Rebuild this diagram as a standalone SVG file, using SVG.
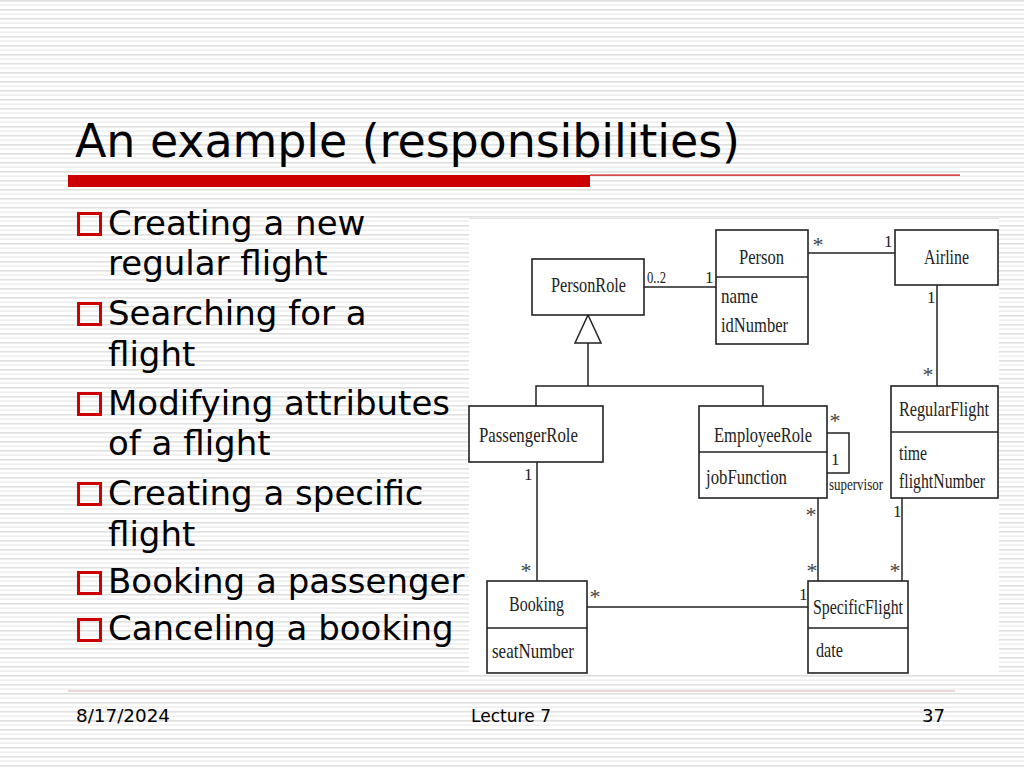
<svg xmlns="http://www.w3.org/2000/svg" width="1024" height="768" viewBox="0 0 1024 768">
<defs>
<pattern id="stripes" x="0" y="0" width="16" height="9" patternUnits="userSpaceOnUse">
<rect x="0" y="0" width="16" height="9" fill="#ffffff"/>
<rect x="0" y="0" width="16" height="1.6" fill="#e0e0e0"/>
<rect x="0" y="4.5" width="16" height="1.2" fill="#eaeaea"/>
</pattern>
<style>
.title{font-family:"DejaVu Sans",Verdana,sans-serif;font-size:46px;fill:#000}
.bul{font-family:"DejaVu Sans",Verdana,sans-serif;font-size:34px;fill:#000}
.foot{font-family:"DejaVu Sans Condensed","DejaVu Sans",Tahoma,sans-serif;font-size:18px;fill:#000}
.box{fill:#fff;stroke:#222;stroke-width:1.6}
.ln{fill:none;stroke:#222;stroke-width:1.5}
.cn{font-family:"Liberation Serif","Times New Roman",serif;font-size:21px;fill:#222}
.at{font-family:"Liberation Serif","Times New Roman",serif;font-size:21px;fill:#222}
.m{font-family:"Liberation Serif","Times New Roman",serif;font-size:17px;fill:#222}
.ast{font-family:"Liberation Serif","Times New Roman",serif;font-size:22px;fill:#444;text-anchor:middle}
.sq{fill:none;stroke:#cc0000;stroke-width:3}
</style>
</defs>
<rect x="0" y="0" width="1024" height="768" fill="url(#stripes)"/>

<!-- title -->
<text class="title" x="75" y="157" textLength="665">An example (responsibilities)</text>
<rect x="68" y="175" width="522" height="12" fill="#cc0000"/>
<rect x="590" y="174.5" width="370" height="1.2" fill="#cc0000"/>

<!-- bullets -->
<g id="bullets">
<rect class="sq" x="78.5" y="213.5" width="22" height="21"/>
<text class="bul" x="108" y="235">Creating a new</text>
<text class="bul" x="108" y="275">regular flight</text>
<rect class="sq" x="78.5" y="303.5" width="22" height="21"/>
<text class="bul" x="108" y="325">Searching for a</text>
<text class="bul" x="108" y="366">flight</text>
<rect class="sq" x="78.5" y="393.5" width="22" height="21"/>
<text class="bul" x="108" y="415">Modifying attributes</text>
<text class="bul" x="108" y="455">of a flight</text>
<rect class="sq" x="78.5" y="483.5" width="22" height="21"/>
<text class="bul" x="108" y="505">Creating a specific</text>
<text class="bul" x="108" y="546">flight</text>
<rect class="sq" x="78.5" y="572.5" width="22" height="21"/>
<text class="bul" x="108" y="593">Booking a passenger</text>
<rect class="sq" x="78.5" y="619.5" width="22" height="21"/>
<text class="bul" x="108" y="640">Canceling a booking</text>
</g>

<!-- diagram background -->
<rect x="469" y="218" width="530" height="457" fill="#ffffff"/>
<line x1="469" y1="218.5" x2="999" y2="218.5" stroke="#e4e4e4" stroke-width="1"/>

<!-- connectors -->
<g id="connectors">
<line class="ln" x1="644" y1="287" x2="716" y2="287"/>
<line class="ln" x1="808" y1="253" x2="895" y2="253"/>
<line class="ln" x1="937" y1="285" x2="937" y2="386"/>
<polygon class="ln" points="588,315 575,343 601,343" fill="#fff"/>
<polyline class="ln" points="588,343 588,386"/>
<polyline class="ln" points="536,406 536,386 763,386 763,406"/>
<polyline class="ln" points="827,433 849,433 849,473 827,473"/>
<line class="ln" x1="537" y1="462" x2="537" y2="581"/>
<line class="ln" x1="587" y1="607" x2="808" y2="607"/>
<line class="ln" x1="818" y1="498" x2="818" y2="581"/>
<line class="ln" x1="902" y1="498" x2="902" y2="581"/>
<text class="m" x="647" y="283" textLength="19" lengthAdjust="spacingAndGlyphs">0..2</text>
<text class="m" x="705" y="283">1</text>
<text class="ast" x="818" y="252">*</text>
<text class="m" x="884" y="247">1</text>
<text class="m" x="927" y="303">1</text>
<text class="ast" x="928" y="382">*</text>
<text class="ast" x="835" y="428">*</text>
<text class="m" x="831" y="465">1</text>
<text class="m" x="829" y="490" style="font-size:16px" textLength="54" lengthAdjust="spacingAndGlyphs">supervisor</text>
<text class="ast" x="811" y="522">*</text>
<text class="m" x="893" y="517">1</text>
<text class="m" x="524" y="480">1</text>
<text class="ast" x="526" y="578">*</text>
<text class="ast" x="595" y="604">*</text>
<text class="m" x="799" y="600">1</text>
<text class="ast" x="812" y="578">*</text>
<text class="ast" x="895" y="578">*</text>
</g>

<!-- nodes -->
<g id="PersonRole">
<rect class="box" x="532" y="259" width="112" height="56"/>
<text class="cn" x="551" y="292" textLength="75" lengthAdjust="spacingAndGlyphs">PersonRole</text>
</g>
<g id="Person">
<rect class="box" x="716" y="230" width="92" height="114"/>
<line class="ln" x1="716" y1="277" x2="808" y2="277"/>
<text class="cn" x="739" y="264" textLength="45" lengthAdjust="spacingAndGlyphs">Person</text>
<text class="at" x="721" y="303" textLength="37" lengthAdjust="spacingAndGlyphs">name</text>
<text class="at" x="721" y="332" textLength="67" lengthAdjust="spacingAndGlyphs">idNumber</text>
</g>
<g id="Airline">
<rect class="box" x="895" y="230" width="103" height="55"/>
<text class="cn" x="924" y="264" textLength="45" lengthAdjust="spacingAndGlyphs">Airline</text>
</g>
<g id="PassengerRole">
<rect class="box" x="469" y="406" width="134" height="56"/>
<text class="cn" x="479" y="442" textLength="99" lengthAdjust="spacingAndGlyphs">PassengerRole</text>
</g>
<g id="EmployeeRole">
<rect class="box" x="699" y="406" width="128" height="92"/>
<line class="ln" x1="699" y1="452" x2="827" y2="452"/>
<text class="cn" x="714" y="442" textLength="98" lengthAdjust="spacingAndGlyphs">EmployeeRole</text>
<text class="at" x="706" y="484" textLength="81" lengthAdjust="spacingAndGlyphs">jobFunction</text>
</g>
<g id="RegularFlight">
<rect class="box" x="891" y="386" width="107" height="112"/>
<line class="ln" x1="891" y1="432" x2="998" y2="432"/>
<text class="cn" x="899" y="416" textLength="90" lengthAdjust="spacingAndGlyphs">RegularFlight</text>
<text class="at" x="899" y="460" textLength="28" lengthAdjust="spacingAndGlyphs">time</text>
<text class="at" x="899" y="488" textLength="86" lengthAdjust="spacingAndGlyphs">flightNumber</text>
</g>
<g id="Booking">
<rect class="box" x="487" y="581" width="100" height="92"/>
<line class="ln" x1="487" y1="628" x2="587" y2="628"/>
<text class="cn" x="509" y="611" textLength="55" lengthAdjust="spacingAndGlyphs">Booking</text>
<text class="at" x="492" y="658" textLength="82" lengthAdjust="spacingAndGlyphs">seatNumber</text>
</g>
<g id="SpecificFlight">
<rect class="box" x="808" y="581" width="100" height="92"/>
<line class="ln" x1="808" y1="628" x2="908" y2="628"/>
<text class="cn" x="813" y="614" textLength="90" lengthAdjust="spacingAndGlyphs">SpecificFlight</text>
<text class="at" x="816" y="657" textLength="27" lengthAdjust="spacingAndGlyphs">date</text>
</g>

<!-- footer -->
<rect x="68" y="690.5" width="887" height="1" fill="#d8b0b0"/>
<text class="foot" x="76" y="722" textLength="94" lengthAdjust="spacingAndGlyphs">8/17/2024</text>
<text class="foot" x="471" y="722" textLength="80" lengthAdjust="spacingAndGlyphs">Lecture 7</text>
<text class="foot" x="922" y="722" textLength="23" lengthAdjust="spacingAndGlyphs">37</text>
</svg>
